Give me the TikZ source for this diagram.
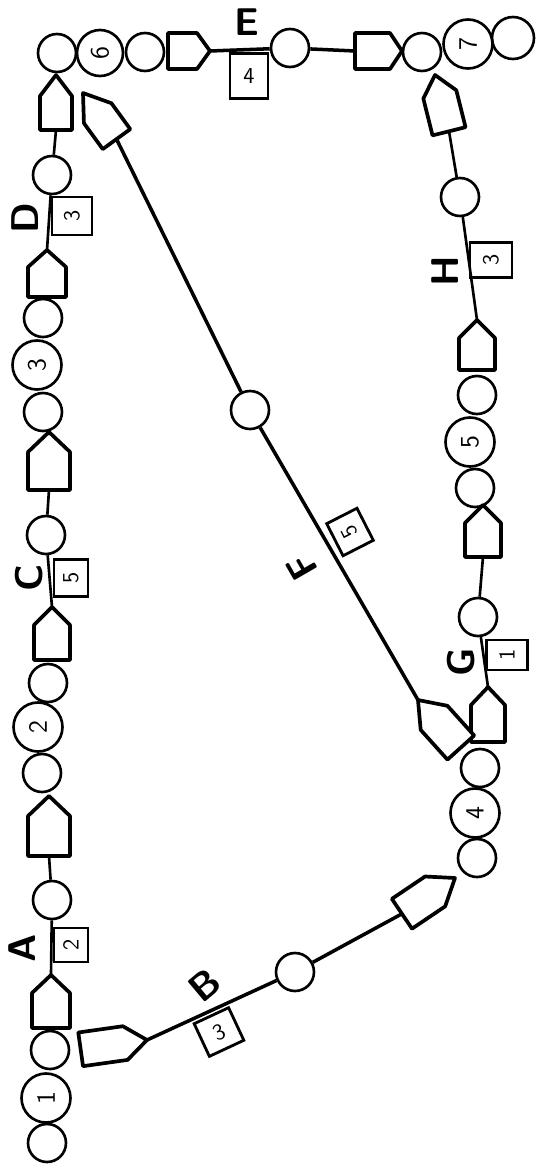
\documentclass[tikz,border=0pt]{standalone}
\usepackage{graphicx}
\tikzset{
  dot/.style={circle,draw,line width=1.5pt,minimum size=0.76cm,inner sep=0pt},
  num/.style={circle,draw,line width=1.5pt,minimum size=0.98cm,inner sep=0pt,font=\sffamily\fontsize{15}{15}\selectfont,rotate=90},
  dbox/.style={draw,line width=1.6pt,inner sep=0pt,font=\sffamily\fontsize{13}{13}\selectfont},
  lab/.style={font=\sffamily\bfseries\fontsize{22}{22}\selectfont,inner sep=0pt},
  act/.style={line width=1.5pt},
  actb/.style={line width=2pt},
  pent/.style={line width=2.1pt,line join=round,fill=white},
  pics/penta/.style n args={3}{code={
    \draw[pent] (0,0) -- (-#3,#2) -- (-#1,#2) -- (-#1,-#2) -- (-#3,-#2) -- cycle;
    \coordinate (-tip) at (0,0);
    \coordinate (-base) at (-#1,0);
  }}
}
\begin{document}
\begin{tikzpicture}[x=0.02cm,y=-0.02cm]
\useasboundingbox (0,0) rectangle (535,1170);

% ---------- event circles ----------
\node[dot] (c1a) at (47,1143) {};
\node[num] (n1) at (46,1098) {1};
\node[dot] (c1b) at (50,1050) {};
\node[dot] (cA) at (52,900) {};
\node[dot] (c2a) at (42,773) {};
\node[num] (n2) at (38,727) {2};
\node[dot] (c2b) at (48,683) {};
\node[dot] (cC) at (46,535) {};
\node[dot] (c3a) at (43,412) {};
\node[num] (n3) at (37,365) {3};
\node[dot] (c3b) at (43,318) {};
\node[dot] (cD) at (52,175) {};
\node[dot] (c6a) at (57,53) {};
\node[num,minimum size=0.92cm] (n6) at (100,53) {6};
\node[dot] (c6b) at (145,52) {};
\node[dot] (cE) at (290,48) {};
\node[dot] (c7a) at (422,52) {};
\node[num] (n7) at (468,44) {7};
\node[dot,minimum size=0.84cm] (c7b) at (513,38) {};
\node[dot] (cH) at (460,197) {};
\node[dot] (c5a) at (477,395) {};
\node[num] (n5) at (470,442) {5};
\node[dot] (c5b) at (475,488) {};
\node[dot] (cG) at (478,617) {};
\node[dot] (c4a) at (480,768) {};
\node[num] (n4) at (475,813) {4};
\node[dot] (c4b) at (477,858) {};
\node[dot] (cB) at (295,972) {};
\node[dot] (cF) at (250,410) {};

% ---------- arrow pentagons ----------
\pic[rotate=90] (pA1) at (51,975) {penta={53}{19}{18}};
\pic[rotate=90] (pA2) at (49,796) {penta={60}{21}{20}};
\pic[rotate=90] (pC1) at (52,607) {penta={53}{18}{18}};
\pic[rotate=90] (pC2) at (49,432) {penta={58}{21}{20}};
\pic[rotate=90] (pD1) at (47,250) {penta={47}{19}{17}};
\pic[rotate=90] (pD2) at (56,75) {penta={55}{16}{21}};
\pic[rotate=0]  (pE1) at (210,51) {penta={42}{18}{13}};
\pic[rotate=0]  (pE2) at (402,51) {penta={47}{18}{12}};
\pic[rotate=104] (pH2) at (435,75) {penta={58}{17}{20}};
\pic[rotate=90] (pH1) at (477,320) {penta={50}{18}{18}};
\pic[rotate=90] (pG2) at (483,505) {penta={52}{18}{18}};
\pic[rotate=90] (pG1) at (488,687) {penta={55}{17}{18}};
\pic[rotate=34] (pB2) at (455,878) {penta={64}{18}{24}};
\pic[rotate=8]  (pB1) at (147,1040) {penta={67}{17}{22}};
\pic[rotate=126] (pF2) at (83,93) {penta={57}{17}{25}};
\pic[rotate=132] (pF1) at (418,700) {penta={64}{18}{24}};

% ---------- activity lines ----------
\draw[act] (pA1-tip) -- (cA);  \draw[act] (cA) -- (pA2-base);
\draw[act] (pC1-tip) -- (cC);  \draw[act] (cC) -- (pC2-base);
\draw[act] (pD1-tip) -- (cD);  \draw[act] (cD) -- (pD2-base);
\draw[actb] (pE1-tip) -- (cE); \draw[actb] (cE) -- (pE2-base);
\draw[act] (pH1-tip) -- (cH);  \draw[act] (cH) -- (pH2-base);
\draw[act] (pG1-tip) -- (cG);  \draw[act] (cG) -- (pG2-base);
\draw[actb] (pB1-tip) -- (cB); \draw[actb] (cB) -- (pB2-base);
\draw[actb] (pF1-tip) -- (cF); \draw[actb] (cF) -- (pF2-base);

% ---------- duration boxes ----------
\node[dbox,minimum width=0.68cm,minimum height=0.68cm] (bA) at (71,945) {\rotatebox{90}{2}};
\node[dbox,minimum width=0.68cm,minimum height=0.74cm] (bC) at (71,578) {\rotatebox{90}{5}};
\node[dbox,minimum width=0.8cm,minimum height=0.76cm] (bD) at (72,216) {\rotatebox{90}{3}};
\node[dbox,minimum width=0.76cm,minimum height=0.9cm] (bE) at (249,76) {4};
\node[dbox,minimum width=0.84cm,minimum height=0.7cm] (bH) at (491,260) {\rotatebox{90}{3}};
\node[dbox,minimum width=0.82cm,minimum height=0.6cm] (bG) at (507,655) {\rotatebox{90}{1}};
\node[dbox,rotate=25,minimum width=0.76cm,minimum height=0.72cm] (bB) at (219,1032) {3};
\node[dbox,rotate=117,minimum width=0.72cm,minimum height=0.68cm] (bF) at (350,532) {5};

% ---------- activity letters ----------
\node[lab,rotate=90] (lA) at (22,948) {A};
\node[lab,rotate=90] (lC) at (29,578) {C};
\node[lab,rotate=90] (lD) at (25,218) {D};
\node[lab] (lE) at (247,22) {E};
\node[lab,rotate=90] (lG) at (461,662) {G};
\node[lab,rotate=90] (lH) at (445,271) {H};
\node[lab,rotate=40] (lB) at (205,985) {B};
\node[lab,rotate=120] (lF) at (302,567) {F};
\end{tikzpicture}
\end{document}
